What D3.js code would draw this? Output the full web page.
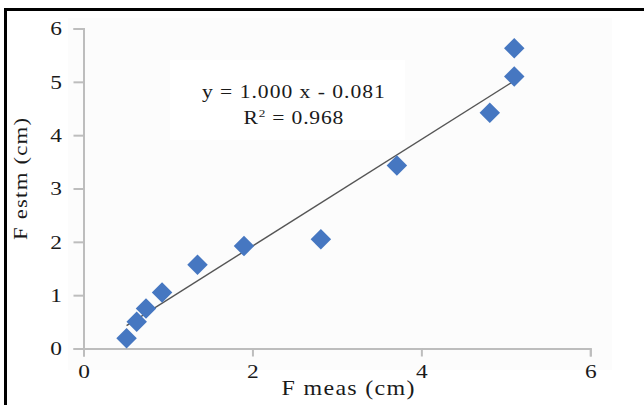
<!DOCTYPE html>
<html>
<head>
<meta charset="utf-8">
<script src="https://cdn.jsdelivr.net/npm/d3@7"></script>
<style>
  body { margin: 0; background: #fff; }
  text { font-family: "Liberation Serif", "Times New Roman", serif; fill: #1a1a1a; }
</style>
</head>
<body>
<div id="chart"></div>
<script>
// data
var measured  = [0.51, 0.63, 0.74, 0.93, 1.35, 1.90, 2.81, 3.71, 4.81, 5.10, 5.10];
var estimated = [0.19, 0.50, 0.75, 1.05, 1.57, 1.92, 2.05, 3.43, 4.42, 5.10, 5.63];
var xTicks = [0, 2, 4, 6];
var yTicks = [0, 1, 2, 3, 4, 5, 6];
var slope = 1.000, intercept = -0.081;
var eqLine = "y = 1.000 x - 0.081";
var r2Value = "0.968";

var W = 644, H = 405;
var sx = 1.2; // glyphs in the picture are a bit wide

var svg = d3.select("#chart").append("svg")
    .attr("width", W)
    .attr("height", H);

// plot area and label background (very faint)
svg.append("rect").attr("x", 68).attr("y", 18).attr("width", 544).attr("height", 352)
    .attr("fill", "#fcfcfc");
svg.append("rect").attr("x", 170).attr("y", 60).attr("width", 235).attr("height", 80)
    .attr("fill", "#ffffff");

var x = d3.scaleLinear().domain([0, 6]).range([83.5, 590.3]);
var y = d3.scaleLinear().domain([0, 6]).range([348.5, 28.5]);

// axes
var gx = svg.append("g")
    .attr("transform", "translate(0," + y(0) + ")")
    .call(d3.axisBottom(x).tickValues(xTicks).tickSize(8).tickPadding(8).tickFormat(d3.format("d")));
var gy = svg.append("g")
    .attr("transform", "translate(" + x(0) + ",0)")
    .call(d3.axisLeft(y).tickValues(yTicks).tickSize(10).tickPadding(11).tickFormat(d3.format("d")));

[gx, gy].forEach(function (g) {
    g.selectAll("path, line").attr("stroke", "#bdbdbd").attr("stroke-width", 2);
    g.selectAll("text")
        .style("font-family", "'Liberation Serif', 'Times New Roman', serif")
        .style("font-size", "19.5px")
        .attr("fill", "#1a1a1a");
});
gy.selectAll("text")
    .attr("x", -21.5 / sx)
    .attr("transform", "scale(" + sx + ",1)");
gx.selectAll("text")
    .attr("transform", "scale(" + sx + ",1)");

// trend line
var xr = d3.extent(measured);
svg.append("line")
    .attr("x1", x(xr[0])).attr("y1", y(slope * xr[0] + intercept))
    .attr("x2", x(xr[1])).attr("y2", y(slope * xr[1] + intercept))
    .attr("stroke", "#555")
    .attr("stroke-width", 1.4);

// diamonds
var diamond = d3.symbol().type(d3.symbolSquare).size(210);
svg.selectAll("path.pt")
    .data(measured)
    .enter().append("path")
    .attr("class", "pt")
    .attr("d", diamond)
    .attr("fill", "#4677c1")
    .attr("transform", function (d, i) {
        return "translate(" + x(d) + "," + y(estimated[i]) + ") rotate(45)";
    });

// wide text helper: widened glyphs plus spread to a given width
function wideText(cx, cy, rot, size, len) {
    var g = svg.append("g")
        .attr("transform", "translate(" + cx + "," + cy + ") rotate(" + rot + ") scale(" + sx + ",1)");
    return g.append("text")
        .attr("text-anchor", "middle")
        .attr("textLength", len / sx).attr("lengthAdjust", "spacing")
        .style("font-size", size + "px");
}

// regression label
wideText(293.4, 98.3, 0, 18, 183).text(eqLine);
var r2 = wideText(293.4, 124, 0, 18, 100);
r2.append("tspan").text("R");
r2.append("tspan").attr("dy", -7).style("font-size", "11px").text("2");
r2.append("tspan").attr("dy", 7).text(" = " + r2Value);

// axis titles
wideText(348, 395, 0, 20, 133).text("F meas (cm)");
wideText(27, 179, -90, 19, 122).text("F estm (cm)");

// frame (top and left edges only are visible)
svg.append("path")
    .attr("d", "M5.5," + H + "V9.5H" + W)
    .attr("fill", "none")
    .attr("stroke", "#000")
    .attr("stroke-width", 3);
</script>
</body>
</html>
